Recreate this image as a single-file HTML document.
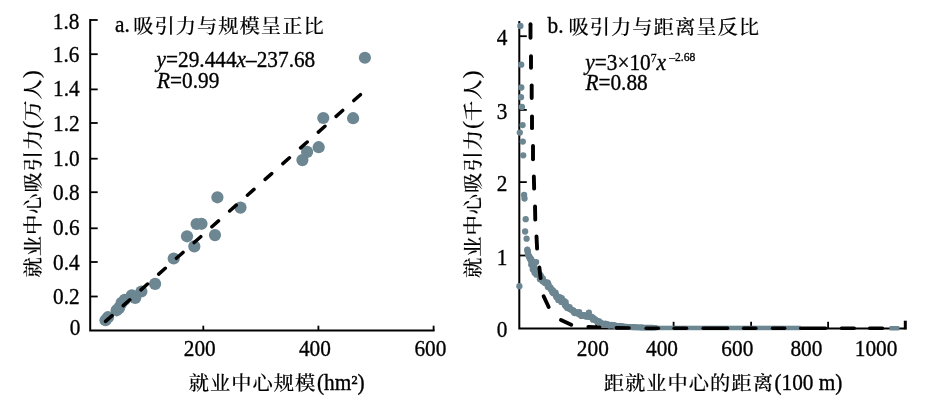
<!DOCTYPE html>
<html lang="zh"><head><meta charset="utf-8"><title>chart</title>
<style>
html,body{margin:0;padding:0;background:#fff;}
body{width:925px;height:404px;overflow:hidden;}
svg{display:block;}
text{font-family:"Liberation Serif","Noto Serif CJK SC",serif;font-size:21.3px;fill:#000;}
.la{stroke:#000;stroke-width:0.32px;}
.cj{font-weight:500;stroke:#000;stroke-width:0.12px;font-size:20.3px;letter-spacing:1px;}
.it{font-style:italic;}
.sup{font-size:11.6px;}
.ax{stroke:#000;stroke-width:2;fill:none;stroke-linecap:butt;}
.tk{stroke:#000;stroke-width:1.8;fill:none;}
.dash{stroke:#000;fill:none;stroke-linecap:round;}
.d{fill:#6c8692;}
</style></head><body>
<svg width="925" height="404" viewBox="0 0 925 404">
<rect width="925" height="404" fill="#fff"/>

<g class="d">
<circle cx="364.9" cy="57.75" r="6.1"/>
<circle cx="323.3" cy="118.0" r="6.1"/>
<circle cx="353.1" cy="118.2" r="6.1"/>
<circle cx="318.7" cy="147.2" r="6.1"/>
<circle cx="307.1" cy="151.9" r="6.1"/>
<circle cx="302.4" cy="160.1" r="6.1"/>
<circle cx="217.4" cy="197.3" r="6.1"/>
<circle cx="240.5" cy="207.6" r="6.1"/>
<circle cx="196.6" cy="224.0" r="6.1"/>
<circle cx="201.5" cy="223.8" r="6.1"/>
<circle cx="187.0" cy="236.3" r="6.1"/>
<circle cx="215.0" cy="235.1" r="6.1"/>
<circle cx="194.3" cy="246.4" r="6.1"/>
<circle cx="173.7" cy="258.5" r="6.1"/>
<circle cx="155.1" cy="283.9" r="6.1"/>
<circle cx="141.4" cy="291.5" r="6.1"/>
<circle cx="131.8" cy="295.3" r="6.1"/>
<circle cx="135.2" cy="298.0" r="6.1"/>
<circle cx="124.7" cy="299.8" r="6.1"/>
<circle cx="121.6" cy="302.9" r="6.1"/>
<circle cx="119.1" cy="307.9" r="6.1"/>
<circle cx="116.6" cy="310.3" r="6.1"/>
<circle cx="108.0" cy="317.2" r="6.1"/>
<circle cx="105.5" cy="320.2" r="6.1"/>
</g>
<path class="ax" d="M90.2 19.1 V330.5 H434.6"/>
<g class="tk">
<line x1="90.2" y1="20.00" x2="97.7" y2="20.00"/>
<line x1="90.2" y1="54.20" x2="97.7" y2="54.20"/>
<line x1="90.2" y1="89.40" x2="97.7" y2="89.40"/>
<line x1="90.2" y1="123.00" x2="97.7" y2="123.00"/>
<line x1="90.2" y1="158.70" x2="97.7" y2="158.70"/>
<line x1="90.2" y1="192.20" x2="97.7" y2="192.20"/>
<line x1="90.2" y1="228.30" x2="97.7" y2="228.30"/>
<line x1="90.2" y1="262.00" x2="97.7" y2="262.00"/>
<line x1="90.2" y1="296.50" x2="97.7" y2="296.50"/>
<line x1="203.3" y1="330.5" x2="203.3" y2="325.7"/>
<line x1="318.4" y1="330.5" x2="318.4" y2="325.7"/>
<line x1="433.6" y1="330.5" x2="433.6" y2="325.7"/>
</g>
<line class="dash" x1="360.4" y1="94.7" x2="105.5" y2="321.4" stroke-width="3.5" stroke-dasharray="8.8 14.94"/>
<text class="la" transform="translate(80.4 334.7) scale(1 1.04)" text-anchor="end">0</text>
<text class="la" transform="translate(79.6 303.7) scale(1 1.04)" text-anchor="end">0.2</text>
<text class="la" transform="translate(79.6 270.0) scale(1 1.04)" text-anchor="end">0.4</text>
<text class="la" transform="translate(79.6 234.9) scale(1 1.04)" text-anchor="end">0.6</text>
<text class="la" transform="translate(79.6 199.9) scale(1 1.04)" text-anchor="end">0.8</text>
<text class="la" transform="translate(79.6 165.8) scale(1 1.04)" text-anchor="end">1.0</text>
<text class="la" transform="translate(79.6 130.7) scale(1 1.04)" text-anchor="end">1.2</text>
<text class="la" transform="translate(79.6 96.3) scale(1 1.04)" text-anchor="end">1.4</text>
<text class="la" transform="translate(79.4 62.2) scale(1 1.04)" text-anchor="end">1.6</text>
<text class="la" transform="translate(79.4 29.3) scale(1 1.04)" text-anchor="end">1.8</text>
<text class="la" transform="translate(199.7 356.3) scale(1 1.04)" text-anchor="middle">200</text>
<text class="la" transform="translate(314.9 356.3) scale(1 1.04)" text-anchor="middle">400</text>
<text class="la" transform="translate(430.4 356.3) scale(1 1.04)" text-anchor="middle">600</text>
<text class="cj" transform="translate(188.7 389.7) scale(1 0.96)">就业中心规模</text>
<text class="la" transform="translate(316.9 389.5) scale(1 1.04)" text-anchor="start">(hm²)</text>
<text class="cj" transform="translate(40.1 277.6) rotate(-90) scale(1 0.96)">就业中心吸引力<tspan font-size="24.5" letter-spacing="-0.2" dy="-0.9">(</tspan><tspan dy="0.9">万人</tspan><tspan font-size="24.5" letter-spacing="0" dy="-0.9">)</tspan></text>
<text class="la" transform="translate(115 32.2) scale(1 1.04)" text-anchor="start">a.</text>
<text class="cj" transform="translate(133.2 33.2) scale(1 0.96)">吸引力与规模呈正比</text>
<text class="la" transform="translate(156.6 67.2) scale(1 1.04)" text-anchor="start"><tspan class="it">y</tspan>=29.444<tspan class="it">x</tspan>–237.68</text>
<text class="la" transform="translate(157 87.8) scale(1 1.04)" text-anchor="start"><tspan class="it">R</tspan>=0.99</text>
<path class="ax" d="M519.3 21.0 V328.6 H904.3"/><line x1="905.3" y1="329.6" x2="905.3" y2="320.7" stroke="#000" stroke-width="3"/><g class="tk"><line x1="519.3" y1="255.50" x2="526.8" y2="255.50"/><line x1="519.3" y1="182.10" x2="526.8" y2="182.10"/><line x1="519.3" y1="109.90" x2="526.8" y2="109.90"/><line x1="519.3" y1="36.20" x2="526.8" y2="36.20"/><line x1="596.3" y1="328.6" x2="596.3" y2="321.8"/><line x1="673.6" y1="328.6" x2="673.6" y2="321.8"/><line x1="751.1" y1="328.6" x2="751.1" y2="321.8"/><line x1="828.1" y1="328.6" x2="828.1" y2="321.8"/></g>
<g class="d">
<circle cx="520.4" cy="26.0" r="3.15"/>
<circle cx="521.2" cy="64.7" r="3.15"/>
<circle cx="521.3" cy="87.5" r="3.15"/>
<circle cx="521.0" cy="97.2" r="3.15"/>
<circle cx="521.9" cy="106.9" r="3.15"/>
<circle cx="522.6" cy="125.1" r="3.15"/>
<circle cx="519.8" cy="132.6" r="3.15"/>
<circle cx="522.8" cy="141.6" r="3.15"/>
<circle cx="523.2" cy="155.3" r="3.15"/>
<circle cx="524.1" cy="195" r="3.15"/>
<circle cx="524.5" cy="198.5" r="3.15"/>
<circle cx="525.7" cy="219.2" r="3.15"/>
<circle cx="525.1" cy="231.5" r="3.15"/>
<circle cx="526.6" cy="238.7" r="3.15"/>
<circle cx="519.4" cy="286.2" r="3.15"/>
<clipPath id="cp"><rect x="500" y="0" width="420" height="330.2"/></clipPath>
<g clip-path="url(#cp)">
<path d="M527.3 249.5 L528.2 255.0 L531.0 261.3 L533.6 267.5 L537.4 273.8 L542.4 280.1 L548.4 286.4 L554.0 292.6 L559.0 297.7 L564.4 303.6 L571.0 309.2 L577.6 313.0 L583.9 315.5 L590.2 317.3 L596.4 320.9 L602.7 323.4 L609.0 324.8 L615.2 325.8 L627.8 327.0 L640.3 327.7 L656.0 328.0" fill="none" stroke="#6c8692" stroke-width="5.5" stroke-linejoin="round" stroke-linecap="round"/>
<circle cx="527.3" cy="249.5" r="3.1"/>
<circle cx="527.5" cy="250.6" r="3.1"/>
<circle cx="527.7" cy="251.7" r="3.1"/>
<circle cx="527.8" cy="252.8" r="3.1"/>
<circle cx="528.2" cy="253.9" r="3.1"/>
<circle cx="528.2" cy="255.0" r="3.1"/>
<circle cx="528.8" cy="256.0" r="3.1"/>
<circle cx="529.7" cy="256.9" r="3.1"/>
<circle cx="529.6" cy="258.2" r="3.1"/>
<circle cx="531.0" cy="258.8" r="3.1"/>
<circle cx="530.7" cy="260.2" r="3.1"/>
<circle cx="532.2" cy="260.8" r="3.1"/>
<circle cx="532.6" cy="261.8" r="3.1"/>
<circle cx="532.1" cy="263.3" r="3.1"/>
<circle cx="531.2" cy="264.8" r="3.1"/>
<circle cx="534.0" cy="264.9" r="3.1"/>
<circle cx="534.1" cy="266.1" r="3.1"/>
<circle cx="533.2" cy="267.8" r="3.1"/>
<circle cx="532.7" cy="269.5" r="3.1"/>
<circle cx="534.6" cy="269.8" r="3.1"/>
<circle cx="535.9" cy="270.4" r="3.1"/>
<circle cx="534.5" cy="272.7" r="3.1"/>
<circle cx="538.3" cy="271.8" r="3.1"/>
<circle cx="536.3" cy="274.7" r="3.1"/>
<circle cx="538.8" cy="274.2" r="3.1"/>
<circle cx="540.0" cy="274.7" r="3.1"/>
<circle cx="540.8" cy="275.5" r="3.1"/>
<circle cx="540.9" cy="276.9" r="3.1"/>
<circle cx="539.9" cy="279.2" r="3.1"/>
<circle cx="542.8" cy="278.3" r="3.1"/>
<circle cx="542.1" cy="280.4" r="3.1"/>
<circle cx="542.8" cy="281.4" r="3.1"/>
<circle cx="544.5" cy="281.5" r="3.1"/>
<circle cx="544.8" cy="282.9" r="3.1"/>
<circle cx="547.3" cy="282.3" r="3.1"/>
<circle cx="548.1" cy="283.2" r="3.1"/>
<circle cx="548.5" cy="284.6" r="3.1"/>
<circle cx="547.8" cy="286.9" r="3.1"/>
<circle cx="549.4" cy="287.1" r="3.1"/>
<circle cx="550.6" cy="287.6" r="3.1"/>
<circle cx="550.5" cy="289.3" r="3.1"/>
<circle cx="551.7" cy="289.8" r="3.1"/>
<circle cx="553.0" cy="290.3" r="3.1"/>
<circle cx="552.3" cy="292.5" r="3.1"/>
<circle cx="553.4" cy="293.2" r="3.1"/>
<circle cx="555.6" cy="292.7" r="3.1"/>
<circle cx="555.4" cy="294.5" r="3.1"/>
<circle cx="556.4" cy="295.2" r="3.1"/>
<circle cx="556.2" cy="297.1" r="3.1"/>
<circle cx="557.4" cy="297.6" r="3.1"/>
<circle cx="559.7" cy="297.1" r="3.1"/>
<circle cx="558.2" cy="300.0" r="3.1"/>
<circle cx="561.8" cy="298.2" r="3.1"/>
<circle cx="561.6" cy="300.0" r="3.1"/>
<circle cx="561.2" cy="301.9" r="3.1"/>
<circle cx="564.0" cy="300.9" r="3.1"/>
<circle cx="563.7" cy="302.7" r="3.1"/>
<circle cx="565.7" cy="302.0" r="3.1"/>
<circle cx="564.9" cy="305.0" r="3.1"/>
<circle cx="565.5" cy="306.1" r="3.1"/>
<circle cx="567.0" cy="306.2" r="3.1"/>
<circle cx="567.1" cy="308.0" r="3.1"/>
<circle cx="569.6" cy="307.0" r="3.1"/>
<circle cx="569.5" cy="309.0" r="3.1"/>
<circle cx="570.8" cy="309.5" r="3.1"/>
<circle cx="571.9" cy="310.1" r="3.1"/>
<circle cx="573.3" cy="310.3" r="3.1"/>
<circle cx="573.7" cy="312.2" r="3.1"/>
<circle cx="574.6" cy="313.1" r="3.1"/>
<circle cx="576.5" cy="312.3" r="3.1"/>
<circle cx="577.4" cy="313.5" r="3.1"/>
<circle cx="579.2" cy="312.2" r="3.1"/>
<circle cx="579.5" cy="314.4" r="3.1"/>
<circle cx="580.6" cy="314.6" r="3.1"/>
<circle cx="581.3" cy="315.9" r="3.1"/>
<circle cx="582.5" cy="315.9" r="3.1"/>
<circle cx="584.1" cy="315.0" r="3.1"/>
<circle cx="585.2" cy="315.6" r="3.1"/>
<circle cx="586.3" cy="316.7" r="3.1"/>
<circle cx="588.1" cy="315.3" r="3.1"/>
<circle cx="589.0" cy="316.8" r="3.1"/>
<circle cx="590.7" cy="316.4" r="3.1"/>
<circle cx="591.8" cy="317.0" r="3.1"/>
<circle cx="592.9" cy="317.5" r="3.1"/>
<circle cx="593.0" cy="319.7" r="3.1"/>
<circle cx="594.8" cy="319.0" r="3.1"/>
<circle cx="595.6" cy="319.8" r="3.1"/>
<circle cx="596.5" cy="320.7" r="3.1"/>
<circle cx="597.2" cy="322.0" r="3.1"/>
<circle cx="598.8" cy="321.0" r="3.1"/>
<circle cx="599.6" cy="322.1" r="3.1"/>
<circle cx="600.6" cy="322.7" r="3.1"/>
<circle cx="601.4" cy="323.6" r="3.1"/>
<circle cx="602.6" cy="324.0" r="3.1"/>
<circle cx="603.8" cy="324.3" r="3.1"/>
<circle cx="605.3" cy="323.6" r="3.1"/>
<circle cx="606.5" cy="324.1" r="3.1"/>
<circle cx="607.8" cy="324.3" r="3.1"/>
<circle cx="608.9" cy="325.3" r="3.1"/>
<circle cx="610.2" cy="325.5" r="3.1"/>
<circle cx="611.5" cy="324.8" r="3.1"/>
<circle cx="612.8" cy="325.1" r="3.1"/>
<circle cx="614.0" cy="325.4" r="3.1"/>
<circle cx="615.2" cy="325.6" r="3.1"/>
<circle cx="616.3" cy="325.9" r="3.1"/>
<circle cx="617.5" cy="326.1" r="3.1"/>
<circle cx="618.6" cy="326.0" r="3.1"/>
<circle cx="619.8" cy="326.0" r="3.1"/>
<circle cx="620.9" cy="326.3" r="3.1"/>
<circle cx="622.1" cy="326.4" r="3.1"/>
<circle cx="623.2" cy="326.6" r="3.1"/>
<circle cx="624.4" cy="326.8" r="3.1"/>
<circle cx="625.5" cy="326.8" r="3.1"/>
<circle cx="626.7" cy="326.9" r="3.1"/>
<circle cx="627.8" cy="327.0" r="3.1"/>
<circle cx="628.9" cy="327.1" r="3.1"/>
<circle cx="630.1" cy="327.1" r="3.1"/>
<circle cx="631.2" cy="327.2" r="3.1"/>
<circle cx="632.3" cy="327.3" r="3.1"/>
<circle cx="633.5" cy="327.3" r="3.1"/>
<circle cx="634.6" cy="327.4" r="3.1"/>
<circle cx="635.8" cy="327.4" r="3.1"/>
<circle cx="636.9" cy="327.5" r="3.1"/>
<circle cx="638.0" cy="327.6" r="3.1"/>
<circle cx="639.2" cy="327.6" r="3.1"/>
<circle cx="640.3" cy="327.7" r="3.1"/>
<circle cx="641.4" cy="327.7" r="3.1"/>
<circle cx="642.5" cy="327.7" r="3.1"/>
<circle cx="643.7" cy="327.8" r="3.1"/>
<circle cx="644.8" cy="327.8" r="3.1"/>
<circle cx="645.9" cy="327.8" r="3.1"/>
<circle cx="647.0" cy="327.8" r="3.1"/>
<circle cx="648.1" cy="327.9" r="3.1"/>
<circle cx="649.3" cy="327.9" r="3.1"/>
<circle cx="650.4" cy="327.9" r="3.1"/>
<circle cx="651.5" cy="327.9" r="3.1"/>
<circle cx="652.6" cy="327.9" r="3.1"/>
<circle cx="653.8" cy="328.0" r="3.1"/>
<circle cx="654.9" cy="328.0" r="3.1"/>
<circle cx="588.9" cy="312.6" r="3.1"/>
<circle cx="536.2" cy="262.0" r="3.1"/>
</g>
<rect x="640" y="325.7" width="160.6" height="4.5"/>
<rect x="889.4" y="326.0" width="10" height="4.5" rx="1"/>
</g>
<g class="dash">
<line x1="530.50" y1="24.15" x2="530.50" y2="37.75" stroke-width="3.9"/>
<line x1="531.00" y1="56.15" x2="531.00" y2="67.75" stroke-width="3.9"/>
<line x1="531.70" y1="85.45" x2="531.70" y2="98.05" stroke-width="3.9"/>
<line x1="532.00" y1="116.35" x2="532.00" y2="128.15" stroke-width="3.9"/>
<line x1="533.00" y1="145.95" x2="533.00" y2="159.35" stroke-width="3.9"/>
<line x1="533.85" y1="176.45" x2="534.15" y2="188.65" stroke-width="3.9"/>
<line x1="535.03" y1="206.35" x2="535.27" y2="219.65" stroke-width="3.9"/>
<line x1="536.50" y1="236.45" x2="537.10" y2="248.55" stroke-width="3.9"/>
<line x1="539.32" y1="267.34" x2="540.58" y2="278.16" stroke-width="3.9"/>
<line x1="543.63" y1="296.27" x2="548.67" y2="307.03" stroke-width="3.9"/>
<line x1="560.97" y1="320.02" x2="571.23" y2="324.78" stroke-width="3.9"/>
<line x1="588.20" y1="326.77" x2="599.60" y2="327.23" stroke-width="3.6"/>
<line x1="616.40" y1="327.83" x2="629.10" y2="328.07" stroke-width="3.6"/>
<line x1="646.20" y1="328.30" x2="658.30" y2="328.30" stroke-width="3.6"/>
<line x1="674.20" y1="328.30" x2="686.50" y2="328.30" stroke-width="3.6"/>
<line x1="703.20" y1="328.30" x2="727.50" y2="328.30" stroke-width="3.6"/>
<line x1="743.70" y1="328.30" x2="755.80" y2="328.30" stroke-width="3.6"/>
<line x1="772.60" y1="328.30" x2="784.60" y2="328.30" stroke-width="3.6"/>
<line x1="800.80" y1="328.30" x2="825.60" y2="328.30" stroke-width="3.6"/>
<line x1="841.50" y1="328.30" x2="854.20" y2="328.30" stroke-width="3.6"/>
<line x1="869.70" y1="328.30" x2="882.40" y2="328.30" stroke-width="3.6"/>
</g>
<text class="la" transform="translate(507.4 337.0) scale(1 1.04)" text-anchor="end">0</text>
<text class="la" transform="translate(507.4 264.6) scale(1 1.04)" text-anchor="end">1</text>
<text class="la" transform="translate(507.4 191.4) scale(1 1.04)" text-anchor="end">2</text>
<text class="la" transform="translate(507.4 118.9) scale(1 1.04)" text-anchor="end">3</text>
<text class="la" transform="translate(507.4 45.1) scale(1 1.04)" text-anchor="end">4</text>
<text class="la" transform="translate(592.8 356.3) scale(1 1.04)" text-anchor="middle">200</text>
<text class="la" transform="translate(662.0 356.3) scale(1 1.04)" text-anchor="middle">400</text>
<text class="la" transform="translate(737.3 356.3) scale(1 1.04)" text-anchor="middle">600</text>
<text class="la" transform="translate(806.4 356.3) scale(1 1.04)" text-anchor="middle">800</text>
<text class="la" transform="translate(876.1 356.3) scale(1 1.04)" text-anchor="middle">1000</text>
<text class="cj" transform="translate(603.7 389.7) scale(1 0.96)">距就业中心的距离</text>
<text class="la" transform="translate(774.4 389.5) scale(1 1.04)" text-anchor="start">(100 m)</text>
<text class="cj" transform="translate(480.2 278) rotate(-90) scale(1 0.96)">就业中心吸引力<tspan font-size="24.5" letter-spacing="-0.2" dy="-0.9">(</tspan><tspan dy="0.9">千人</tspan><tspan font-size="24.5" letter-spacing="0" dy="-0.9">)</tspan></text>
<text class="la" transform="translate(547.5 32.7) scale(1 1.04)" text-anchor="start">b.</text>
<text class="cj" transform="translate(568.5 33.5) scale(1 0.96)">吸引力与距离呈反比</text>
<text class="la" transform="translate(585.3 69.7) scale(1 1.04)" text-anchor="start"><tspan class="it">y</tspan>=3×10<tspan class="sup" dy="-7.4">7</tspan><tspan class="it" dy="7.4">x</tspan><tspan class="sup" dx="3.2" dy="-8.4">–2.68</tspan></text>
<text class="la" transform="translate(585.4 89.8) scale(1 1.04)" text-anchor="start"><tspan class="it">R</tspan>=0.88</text>
</svg></body></html>
